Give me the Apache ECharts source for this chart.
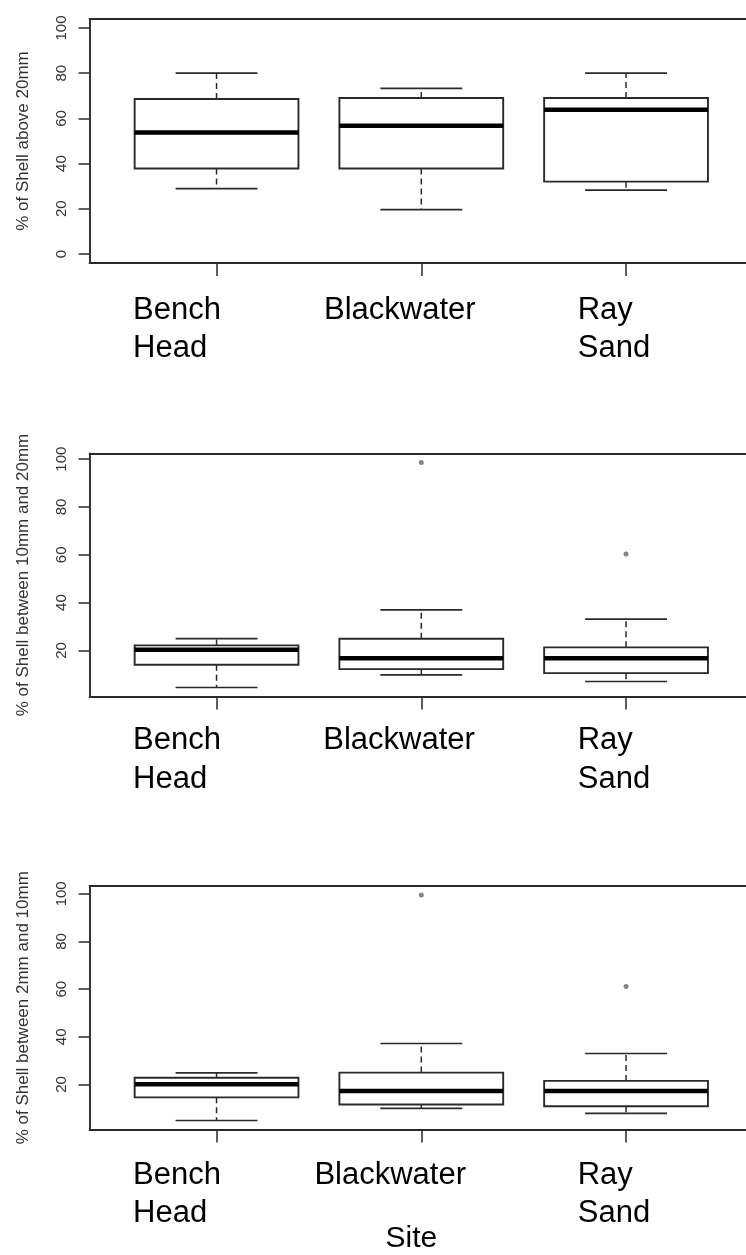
<!DOCTYPE html>
<html>
<head>
<meta charset="utf-8">
<script src="https://cdn.jsdelivr.net/npm/echarts@6/dist/echarts.min.js"></script>
<style>
  html, body { margin: 0; padding: 0; background: #fff; }
  #chart { width: 746px; height: 1255px; }
</style>
</head>
<body>
<div id="chart"></div>
<script>
// ---- Data ----
const sites = ['Bench Head', 'Blackwater', 'Ray Sand'];
const siteTickValues = [1, 2, 3];

// five-number summaries per site: [lower whisker, Q1, median, Q3, upper whisker]
const above20mmStats = [
  [28.9, 37.8, 53.8, 68.6, 80.0],
  [19.6, 37.8, 56.7, 69.0, 73.3],
  [28.3, 32.0, 63.8, 69.0, 80.0]
];
const between10and20Stats = [
  [4.5, 14.0, 20.3, 22.1, 24.9],
  [9.8, 12.2, 16.7, 24.9, 37.0],
  [7.0, 10.5, 16.7, 21.3, 33.1]
];
const between2and10Stats = [
  [4.9, 14.6, 20.1, 22.8, 24.9],
  [10.0, 11.6, 17.3, 25.0, 37.2],
  [7.9, 10.9, 17.3, 21.5, 33.0]
];

// outliers: [site position, value]
const between10and20Outliers = [[2, 98.6], [3, 60.3]];
const between2and10Outliers = [[2, 99.5], [3, 61.1]];

const above20mmTicks = [0, 20, 40, 60, 80, 100];
const between10and20Ticks = [20, 40, 60, 80, 100];
const between2and10Ticks = [20, 40, 60, 80, 100];

const yTitles = [
  '% of Shell above 20mm',
  '% of Shell between 10mm and 20mm',
  '% of Shell between 2mm and 10mm'
];
const xTitle = 'Site';

// ---- Layout / style (not data) ----
const FONT = "'Liberation Sans', Arial, sans-serif";
const LINE = '#2a2a2a';
const gridLeft = 89.6;
const gridWidth = 746 - gridLeft;     // plot region runs past the right edge of the picture
const unitPx = 204.75;                // pixels per site step in the reference
const xMin = 0.38;
const xMax = xMin + gridWidth / unitPx;
const panels = [
  { top: 19, height: 244, stats: above20mmStats, outliers: [], ticks: above20mmTicks, ylim: [-4, 104],
    labelOffsets: [-0.408, -0.475, -0.236], labelMargin: 28, lineHeight: 38.6 },
  { top: 453.5, height: 243, stats: between10and20Stats, outliers: between10and20Outliers, ticks: between10and20Ticks, ylim: null,
    labelOffsets: [-0.408, -0.479, -0.236], labelMargin: 24, lineHeight: 39.5 },
  { top: 886, height: 243.5, stats: between2and10Stats, outliers: between2and10Outliers, ticks: between2and10Ticks, ylim: null,
    labelOffsets: [-0.408, -0.522, -0.236], labelMargin: 27, lineHeight: 38 }
];

// R-style axis limits: data range extended by 4% on each side
function rLimits(stats, outliers) {
  let lo = Infinity, hi = -Infinity;
  stats.forEach(s => s.forEach(v => { lo = Math.min(lo, v); hi = Math.max(hi, v); }));
  outliers.forEach(o => { lo = Math.min(lo, o[1]); hi = Math.max(hi, o[1]); });
  const ext = (hi - lo) * 0.04;
  return [lo - ext, hi + ext];
}

function renderBox(params, api) {
  const x = api.value(0);
  const lo = api.value(1), q1 = api.value(2), med = api.value(3), q3 = api.value(4), hi = api.value(5);
  const pLo = api.coord([x, lo]);
  const pQ1 = api.coord([x, q1]);
  const pMed = api.coord([x, med]);
  const pQ3 = api.coord([x, q3]);
  const pHi = api.coord([x, hi]);
  const halfW = api.size([0.8, 0])[0] / 2;
  const capHalf = halfW / 2;
  const cx = pMed[0];
  const dashStyle = { stroke: LINE, lineWidth: 1.5, lineDash: [6, 4], fill: null };
  const solid = { stroke: LINE, lineWidth: 1.7, fill: null };
  return {
    type: 'group',
    children: [
      { type: 'line', shape: { x1: cx, y1: pQ3[1], x2: cx, y2: pHi[1] }, style: dashStyle },
      { type: 'line', shape: { x1: cx, y1: pQ1[1], x2: cx, y2: pLo[1] }, style: dashStyle },
      { type: 'line', shape: { x1: cx - capHalf, y1: pHi[1], x2: cx + capHalf, y2: pHi[1] }, style: solid },
      { type: 'line', shape: { x1: cx - capHalf, y1: pLo[1], x2: cx + capHalf, y2: pLo[1] }, style: solid },
      { type: 'rect', shape: { x: cx - halfW, y: pQ3[1], width: 2 * halfW, height: pQ1[1] - pQ3[1] },
        style: { stroke: LINE, lineWidth: 1.9, fill: '#fff' } },
      { type: 'line', shape: { x1: cx - halfW, y1: pMed[1], x2: cx + halfW, y2: pMed[1] },
        style: { stroke: '#000', lineWidth: 4.5, fill: null } }
    ]
  };
}

const frameLine = { show: true, onZero: false, lineStyle: { color: LINE, width: 1.9 } };
const grids = [], xAxes = [], yAxes = [], series = [];
panels.forEach((p, i) => {
  const ylim = p.ylim || rLimits(p.stats, p.outliers);
  grids.push({
    left: gridLeft, top: p.top, width: gridWidth, height: p.height,
    show: false, containLabel: false, outerBoundsMode: 'none'
  });
  const labelPositions = siteTickValues.map((v, k) => v + p.labelOffsets[k]);
  // bottom axis: frame bottom, site ticks and site labels
  xAxes.push({
    type: 'value', gridIndex: i, min: xMin, max: xMax, position: 'bottom',
    axisLine: frameLine,
    splitLine: { show: false },
    axisTick: { show: true, customValues: siteTickValues, length: 13, inside: false,
      lineStyle: { color: LINE, width: 1.5 } },
    axisLabel: {
      show: true, customValues: labelPositions,
      formatter: function (value) {
        let best = 0, bd = Infinity;
        labelPositions.forEach((lp, k) => { const d = Math.abs(lp - value); if (d < bd) { bd = d; best = k; } });
        return sites[best].replace(' ', '\n');
      },
      align: 'left', verticalAlign: 'top',
      fontFamily: FONT, fontSize: 31, color: '#000', lineHeight: p.lineHeight,
      margin: p.labelMargin
    },
    name: i === 2 ? xTitle : '',
    nameLocation: 'middle', nameGap: 94, nameMoveOverlap: false,
    nameTextStyle: { fontFamily: FONT, fontSize: 30, color: '#000', padding: [0, 13, 0, 0] }
  });
  // top axis: just the top edge of the frame
  xAxes.push({
    type: 'value', gridIndex: i, min: xMin, max: xMax, position: 'top',
    axisLine: frameLine, axisTick: { show: false }, axisLabel: { show: false },
    splitLine: { show: false }
  });
  yAxes.push({
    type: 'value', gridIndex: i, min: ylim[0], max: ylim[1],
    axisLine: frameLine,
    splitLine: { show: false },
    axisTick: { show: true, customValues: p.ticks, length: 11, lineStyle: { color: LINE, width: 1.5 } },
    axisLabel: { show: true, customValues: p.ticks, rotate: 90, fontFamily: FONT, fontSize: 15,
      color: '#333', margin: 20 },
    name: yTitles[i], nameLocation: 'middle', nameGap: 58, nameMoveOverlap: false,
    nameTextStyle: { fontFamily: FONT, fontSize: 17, color: '#333' }
  });
  series.push({
    type: 'custom', xAxisIndex: 2 * i, yAxisIndex: i,
    renderItem: renderBox,
    encode: { x: 0, y: [1, 2, 3, 4, 5] },
    data: p.stats.map((s, k) => [siteTickValues[k]].concat(s)),
    silent: true, clip: false
  });
  if (p.outliers.length) {
    series.push({
      type: 'scatter', xAxisIndex: 2 * i, yAxisIndex: i,
      data: p.outliers, symbol: 'circle', symbolSize: 5,
      itemStyle: { color: '#666' }, silent: true
    });
  }
});

const chart = echarts.init(document.getElementById('chart'));
chart.setOption({
  animation: false,
  backgroundColor: '#fff',
  grid: grids,
  xAxis: xAxes,
  yAxis: yAxes,
  series: series
});
</script>
</body>
</html>
